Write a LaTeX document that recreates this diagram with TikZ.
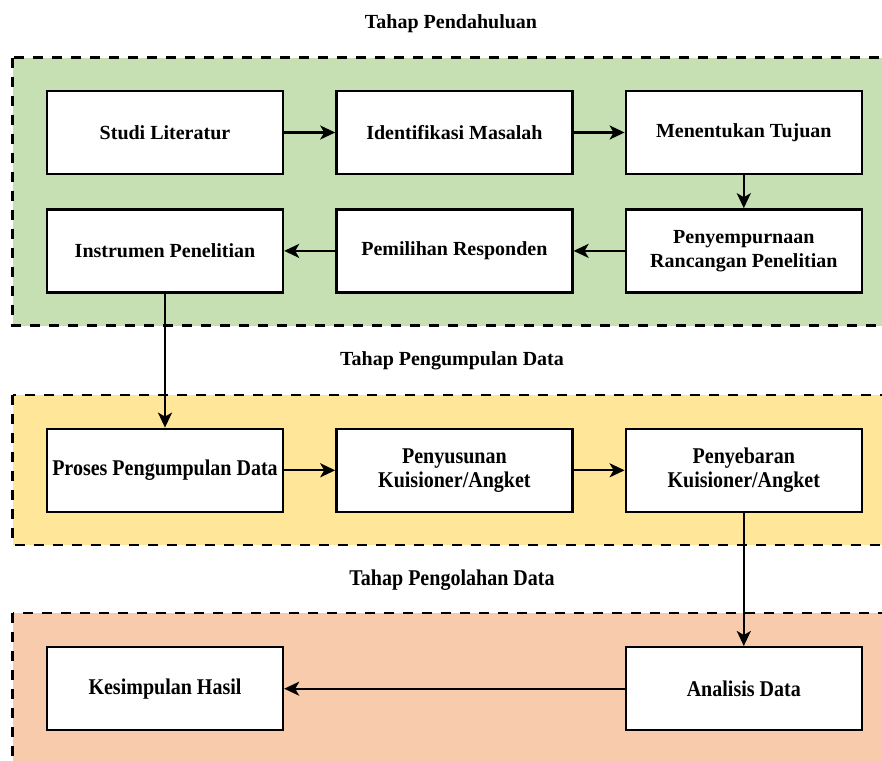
\documentclass[tikz,border=0pt]{standalone}
\usepackage{fontspec}
\setmainfont{Liberation Serif}
\newfontfamily\condfont[FakeStretch=0.89]{Liberation Serif}
\usepackage{tikz}
\usetikzlibrary{arrows, arrows.meta, positioning}

\definecolor{prepgreen}{HTML}{C6E0B4}
\definecolor{collectyellow}{HTML}{FFE699}
\definecolor{processsalmon}{HTML}{F8CBAD}

\begin{document}
\begin{tikzpicture}[x=1pt, y=-1pt]
    \tikzstyle{stage} = [rectangle, draw, line width=2.4pt, fill=white, minimum width=236pt,
                         minimum height=83pt, inner sep=1pt, align=center,
                         font=\fontsize{20}{24}\selectfont\bfseries]
    \tikzstyle{narrow} = [font=\fontsize{22.5}{24}\selectfont\condfont\bfseries]
    \tikzstyle{phase} = [line width=2.5pt, dash pattern=on 10pt off 9pt]
    \tikzstyle{title} = [anchor=base, font=\fontsize{20}{24}\selectfont\bfseries]
    \tikzstyle{flow} = [-{Stealth[length=15pt, width=14pt, inset=4pt]}, line width=2.3pt]

    \clip (0,0) rectangle (882,760);

    % panels
    \draw [phase, fill=prepgreen]     (12.7,57.7) rectangle (900,325.5);
    \draw [phase, fill=collectyellow] (12.7,395)  rectangle (900,545);
    \draw [phase, fill=processsalmon] (12.7,613)  rectangle (900,800);

    \node (t1) [title] at (451,29)  {Tahap Pendahuluan};
    \node (t2) [title] at (452,365) {Tahap Pengumpulan Data};
    \node (t3) [title, narrow] at (452,585) {Tahap Pengolahan Data};

    % tahap pendahuluan
    \node (studi)  [stage] at (165,132.5)           {Studi Literatur};
    \node (ident)  [stage, right=51pt of studi]    {Identifikasi Masalah};
    \node (tujuan) [stage, right=51pt of ident]    {Menentukan Tujuan};
    \node (sempurna) [stage, below=33pt of tujuan] {Penyempurnaan\\Rancangan Penelitian};
    \node (pilih)  [stage, below=33pt of ident]    {Pemilihan Responden};
    \node (instr)  [stage, below=33pt of studi]    {Instrumen Penelitian};

    % tahap pengumpulan data
    \node (proses) [stage, narrow, below=134pt of instr]  {Proses Pengumpulan Data};
    \node (susun)  [stage, narrow, right=51pt of proses]  {Penyusunan\\Kuisioner/Angket};
    \node (sebar)  [stage, narrow, right=51pt of susun]   {Penyebaran\\Kuisioner/Angket};

    % tahap pengolahan data
    \node (simpul) [stage, narrow, below=133pt of proses] {Kesimpulan Hasil};
    \node (analis) [stage, narrow, below=133pt of sebar]  {Analisis Data};

    \draw [flow] (studi) -- (ident);
    \draw [flow] (ident) -- (tujuan);
    \draw [flow] (tujuan) -- (sempurna);
    \draw [flow] (sempurna) -- (pilih);
    \draw [flow] (pilih) -- (instr);
    \draw [flow] (instr) -- (proses);
    \draw [flow] (proses) -- (susun);
    \draw [flow] (susun) -- (sebar);
    \draw [flow] (sebar) -- (analis);
    \draw [flow] (analis) -- (simpul);
\end{tikzpicture}
\end{document}
